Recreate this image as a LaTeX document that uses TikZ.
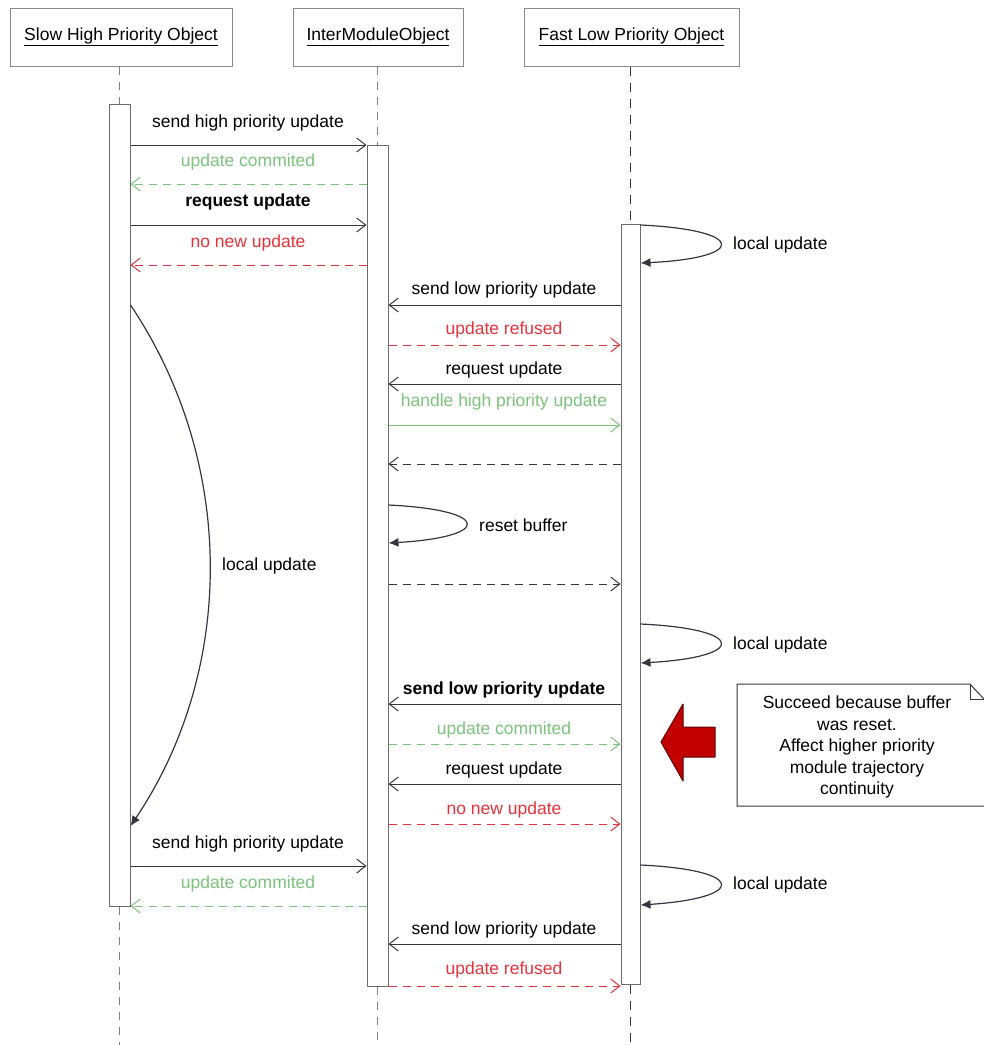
\documentclass[tikz,border=0pt]{standalone}
\usepackage{fontspec}
\setmainfont{Liberation Sans}
\usetikzlibrary{arrows.meta}
\definecolor{ink}{HTML}{34353F}
\definecolor{okgreen}{HTML}{7CC27C}
\definecolor{refused}{HTML}{E4333A}
\definecolor{framegray}{HTML}{8A8A8A}
\definecolor{barred}{HTML}{C20000}
\definecolor{bardark}{HTML}{5A0000}

\begin{document}
\begin{tikzpicture}[x=1pt,y=-1pt,
  font=\fontsize{17.5}{21}\selectfont,
  header/.style={draw=framegray, line width=1pt, fill=white, inner sep=0pt, minimum height=58pt},
  actbar/.style={draw=gray!85!black, line width=1pt, fill=white, inner sep=0pt},
  lifeline/.style={draw=gray, line width=1pt, dash pattern=on 8pt off 7pt},
  darkline/.style={draw=ink, line width=1.4pt, dash pattern=on 9pt off 7pt},
  call/.style={draw=ink, line width=1pt, -{Straight Barb[length=9pt,width=14pt]}},
  reply/.style={call, dash pattern=on 8pt off 6pt},
  lbl/.style={inner sep=0pt, anchor=center, yshift=-2pt},
  selfcall/.style={draw=ink, line width=1.2pt, -{Latex[length=10pt,width=9pt]}},
]
\useasboundingbox (0,0) rectangle (984,1045);

% object headers
\node[header, minimum width=222pt] (h1) at (121,37) {\underline{Slow High Priority Object}};
\node[header, minimum width=170pt] (h2) at (378,37) {\underline{InterModuleObject}};
\node[header, minimum width=215pt] (h3) at (631.5,37) {\underline{Fast Low Priority Object}};

% activation bars
\node[actbar, minimum width=21pt, minimum height=802pt] (sA) at (119.5,505) {};
\node[actbar, minimum width=21pt, minimum height=841pt] (sB) at (377.5,565.5) {};
\node[actbar, minimum width=19pt, minimum height=760pt] (sC) at (630.5,604) {};

% lifeline ends
\coordinate (e1) at (119.5,1045);
\coordinate (e2) at (377.5,1045);
\coordinate (e3) at (630.5,1045);

% lifelines
\draw[lifeline] (sA.north |- h1.south) -- (sA.north);
\draw[lifeline] (sA.south) -- (e1);
\draw[lifeline] (sB.north |- h2.south) -- (sB.north);
\draw[lifeline] (sB.south) -- (e2);
\draw[darkline] (sC.north |- h3.south) -- (sC.north);
\draw[darkline] (sC.south) -- (e3);

% --- slow object talks to the inter-module object
\draw[call] (sA.east |- 0,145) -- (sB.west |- 0,145);
\node[lbl] (m1) at (248,121) {send high priority update};
\draw[reply, draw=okgreen] (sB.west |- 0,184) -- (sA.east |- 0,184);
\node[lbl, text=okgreen] (m2) at (248,160) {update commited};
\draw[call] (sA.east |- 0,225) -- (sB.west |- 0,225);
\node[lbl, font=\fontsize{17.5}{21}\selectfont\bfseries] (m3) at (248,200) {request update};
\draw[reply, draw=refused] (sB.west |- 0,265) -- (sA.east |- 0,265);
\node[lbl, text=refused] (m4) at (248,241) {no new update};

% fast object local update
\draw[selfcall] (sC.east |- 0,225) .. controls (747,230) and (747,258) .. (sC.east |- 0,263);
\node[lbl, anchor=west] (m5) at (733,243) {local update};

% --- fast object talks to the inter-module object
\draw[call] (sC.west |- 0,305) -- (sB.east |- 0,305);
\node[lbl] (m6) at (504,288) {send low priority update};
\draw[reply, draw=refused] (sB.east |- 0,345) -- (sC.west |- 0,345);
\node[lbl, text=refused] (m7) at (504,328) {update refused};
\draw[call] (sC.west |- 0,384) -- (sB.east |- 0,384);
\node[lbl] (m8) at (504,368) {request update};
\draw[call, draw=okgreen] (sB.east |- 0,425) -- (sC.west |- 0,425);
\node[lbl, text=okgreen] (m9) at (504,400) {handle high priority update};
\draw[reply] (sC.west |- 0,464) -- (sB.east |- 0,464);

% buffer reset
\draw[selfcall] (sB.east |- 0,505) .. controls (492,510) and (492,537) .. (sB.east |- 0,543);
\node[lbl, anchor=west] (m10) at (479,523) {reset buffer};
\draw[reply] (sB.east |- 0,584) -- (sC.west |- 0,584);

% slow object long local update
\draw[selfcall] (sA.east |- 0,305) .. controls (236,462) and (236,669) .. (sA.east |- 0,826);
\node[lbl, anchor=west] (m11) at (222,564) {local update};

% fast object local update
\draw[selfcall] (sC.east |- 0,624) .. controls (747,629) and (747,657) .. (sC.east |- 0,663);
\node[lbl, anchor=west] (m12) at (733,643) {local update};

\draw[call] (sC.west |- 0,704) -- (sB.east |- 0,704);
\node[lbl, font=\fontsize{17.5}{21}\selectfont\bfseries] (m13) at (504,688) {send low priority update};
\draw[reply, draw=okgreen] (sB.east |- 0,744) -- (sC.west |- 0,744);
\node[lbl, text=okgreen] (m14) at (504,728) {update commited};
\draw[call] (sC.west |- 0,784) -- (sB.east |- 0,784);
\node[lbl] (m15) at (504,768) {request update};
\draw[reply, draw=refused] (sB.east |- 0,824) -- (sC.west |- 0,824);
\node[lbl, text=refused] (m16) at (504,808) {no new update};

% slow object sends again
\draw[call] (sA.east |- 0,866) -- (sB.west |- 0,866);
\node[lbl] (m17) at (248,842) {send high priority update};
\draw[reply, draw=okgreen] (sB.west |- 0,906) -- (sA.east |- 0,906);
\node[lbl, text=okgreen] (m18) at (248,882) {update commited};

% fast object local update
\draw[selfcall] (sC.east |- 0,865) .. controls (747,870) and (747,898) .. (sC.east |- 0,905);
\node[lbl, anchor=west] (m19) at (733,883) {local update};

\draw[call] (sC.west |- 0,944) -- (sB.east |- 0,944);
\node[lbl] (m20) at (504,928) {send low priority update};
\draw[reply, draw=refused] (sB.east |- 0,986) -- (sC.west |- 0,986);
\node[lbl, text=refused] (m21) at (504,968) {update refused};

% highlight arrow
\filldraw[fill=barred, draw=bardark, line width=1pt, line join=round]
  (661,742) -- (683,704) -- (683,727) -- (715,727) -- (715,757) -- (683,757) -- (683,781) -- cycle;

% note with folded corner
\draw[draw=ink, line width=1pt, fill=white]
  (984,806) -- (737,806) -- (737,684) -- (970,684) -- (984,699);
\draw[draw=ink, line width=1pt] (970,684) -- (970,699) -- (984,699);
\node[lbl, align=center, font=\fontsize{17.5}{21.5}\selectfont] (note) at (857,745)
  {Succeed because buffer\\was reset.\\Affect higher priority\\module trajectory\\continuity};

\end{tikzpicture}
\end{document}
